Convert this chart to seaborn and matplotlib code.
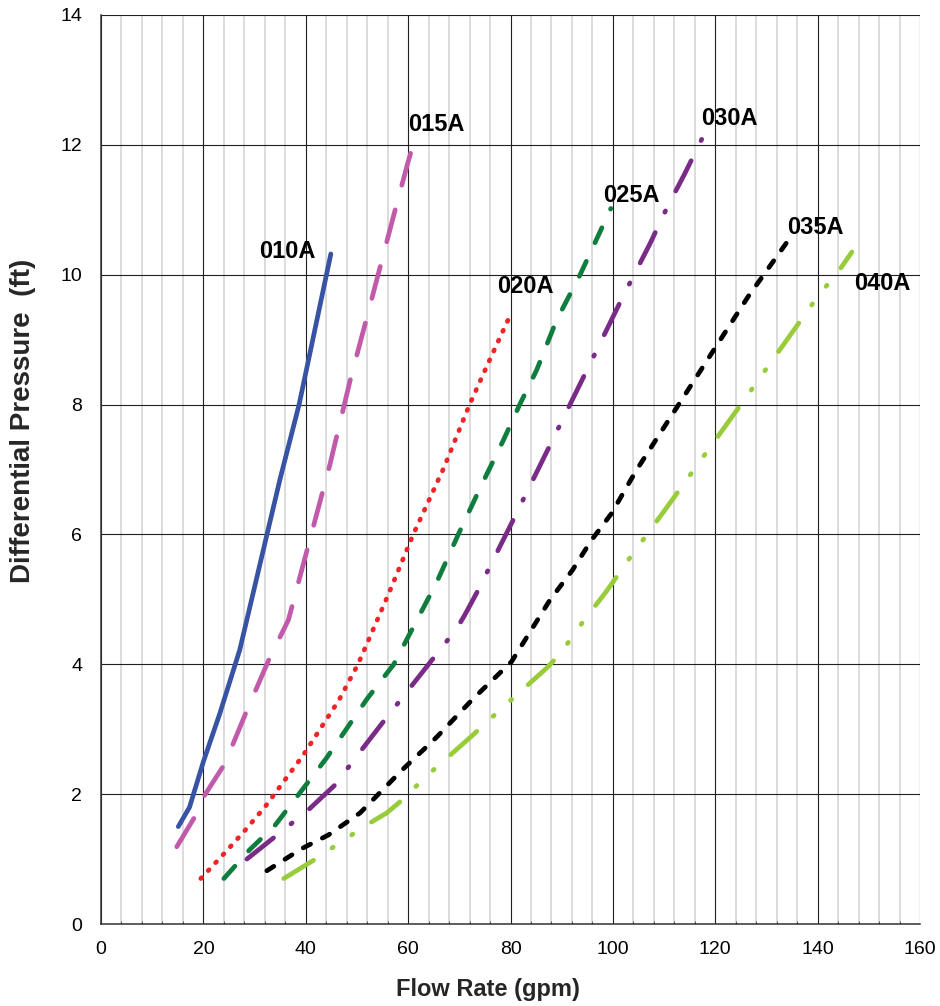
import matplotlib
matplotlib.use("Agg")
import matplotlib.pyplot as plt
from matplotlib.ticker import MultipleLocator
import seaborn as sns

sns.set_theme(style="white")
plt.rcParams["font.family"] = ["Liberation Sans", "DejaVu Sans"]

# ── Data ───────────────────────────────────────────────────────────────────────

models = ["010A", "015A", "020A", "025A", "030A", "035A", "040A"]

flow_010A = [15.1, 17.3, 20.0, 23.2, 27.1, 35.0, 38.7, 44.9]
dp_010A   = [1.50, 1.80, 2.50, 3.24, 4.22, 6.86, 8.00, 10.32]

flow_015A = [14.8, 18.7, 20.3, 24.2, 28.4, 32.9, 36.6, 40.5, 44.7, 48.6, 52.5, 57.1, 60.0, 61.7]
dp_015A   = [1.19, 1.70, 1.99, 2.47, 3.27, 4.09, 4.68, 5.83, 7.07, 8.35, 9.51, 10.89, 11.74, 12.20]

flow_020A = [19.5, 24.0, 28.0, 32.0, 39.5, 46.5, 50.2, 56.0, 61.0, 67.0, 72.0, 76.0, 79.5]
dp_020A   = [0.70, 1.08, 1.43, 1.80, 2.60, 3.45, 4.00, 5.05, 6.00, 7.03, 8.00, 8.70, 9.30]

flow_025A = [24.0, 29.0, 34.0, 44.0, 52.0, 57.2, 65.5, 69.8, 74.7, 78.6, 81.8, 85.1, 89.0, 93.6, 99.6]
dp_025A   = [0.70, 1.14, 1.52, 2.55, 3.47, 4.00, 5.25, 6.00, 6.82, 7.45, 8.00, 8.53, 9.30, 10.00, 11.02]

flow_030A = [28.5, 34.4, 40.4, 45.7, 50.6, 55.0, 60.0, 64.6, 69.5, 71.0, 73.4, 80.0,
             88.5, 95.3, 102.0, 107.2, 110.5, 114.0, 118.2]
dp_030A   = [1.00, 1.37, 1.75, 2.14, 2.65, 3.10, 3.60, 4.06, 4.55, 4.75, 5.10, 6.14,
             7.50, 8.59, 9.67, 10.47, 11.02, 11.55, 12.22]

flow_035A = [32.4, 39.2, 44.4, 50.6, 58.8, 65.6, 72.7, 80.2, 87.7, 92.1, 95.8, 99.7, 104.6, 126.4, 134.0]
dp_035A   = [0.82, 1.16, 1.37, 1.71, 2.37, 2.88, 3.47, 4.04, 4.99, 5.45, 5.91, 6.32, 6.99, 9.66, 10.50]

flow_040A = [35.7, 41.9, 47.0, 52.2, 55.8, 58.1, 61.0, 63.9, 67.2, 72.5, 78.4, 86.9,
             89.6, 94.2, 98.8, 103.5, 110.2, 125.0, 139.8, 144.5, 146.7]
dp_040A   = [0.70, 1.00, 1.27, 1.54, 1.71, 1.86, 2.08, 2.30, 2.53, 2.90, 3.33, 3.93,
             4.15, 4.66, 5.13, 5.66, 6.38, 8.00, 9.64, 10.10, 10.35]

flows = [flow_010A, flow_015A, flow_020A, flow_025A, flow_030A, flow_035A, flow_040A]
dps   = [dp_010A, dp_015A, dp_020A, dp_025A, dp_030A, dp_035A, dp_040A]

# ── Styles ─────────────────────────────────────────────────────────────────────

colors = {
    "010A": "#3953a4",
    "015A": "#c25aab",
    "020A": "#f02325",
    "025A": "#0e7d3e",
    "030A": "#7a2b87",
    "035A": "#000000",
    "040A": "#99cc3a",
}
# dash patterns in units of line width (round caps add half a width each end)
linestyles = {
    "010A": "-",
    "015A": (0, (7, 5.4)),
    "020A": (0, (0.25, 2.05)),
    "025A": (0, (3.5, 4.35)),
    "030A": (0, (7.2, 4.75, 0.3, 4.75)),
    "035A": (0, (1.75, 2.8)),
    "040A": (0, (7.4, 4.7, 0.3, 4.7, 0.3, 4.7)),
}
# label anchor (left edge, vertical centre) in data units
label_pos = {
    "010A": (30.9, 10.35),
    "015A": (60.0, 12.32),
    "020A": (77.3, 9.82),
    "025A": (98.1, 11.22),
    "030A": (117.3, 12.40),
    "035A": (134.1, 10.73),
    "040A": (147.1, 9.86),
}

# ── Plot ───────────────────────────────────────────────────────────────────────

fig = plt.figure(figsize=(9.4, 10.06), dpi=100)
ax = fig.add_axes([0.10745, 0.08151, 0.87128, 0.90358])

for name, x, y in zip(models, flows, dps):
    sns.lineplot(x=x, y=y, ax=ax, sort=False, estimator=None,
                 color=colors[name], linewidth=3.4, linestyle=linestyles[name],
                 dash_capstyle="round", solid_capstyle="round", zorder=3)
    lx, ly = label_pos[name]
    ax.text(lx, ly, name, fontsize=17, fontweight="bold", color="black",
            ha="left", va="center", zorder=4, clip_on=False)

ax.set_xlim(0, 160)
ax.set_ylim(0, 14)
ax.xaxis.set_major_locator(MultipleLocator(20))
ax.xaxis.set_minor_locator(MultipleLocator(4))
ax.yaxis.set_major_locator(MultipleLocator(2))

ax.grid(which="minor", axis="x", color="#d2d2d2", linewidth=1.1, zorder=0)
ax.grid(which="major", axis="both", color="#202020", linewidth=0.8, zorder=1)
ax.set_axisbelow(True)

for side in ["top", "right"]:
    ax.spines[side].set_visible(False)
for side in ["left", "bottom"]:
    ax.spines[side].set_color("#333333")
    ax.spines[side].set_linewidth(1.1)

ax.tick_params(axis="both", which="major", direction="out", length=4.5, width=0.9,
               color="#333333", labelsize=14, labelcolor="black")
ax.tick_params(axis="x", which="major", pad=8)
ax.tick_params(axis="y", which="major", pad=9)
ax.tick_params(axis="x", which="minor", direction="in", length=2.5, width=0.7,
               color="#555555", bottom=True)

ax.set_xlabel("Flow Rate (gpm)", fontsize=17, fontweight="bold")
ax.set_ylabel("Differential Pressure  (ft)", fontsize=20, fontweight="bold")
ax.xaxis.set_label_coords(0.4725, -0.0726)
ax.xaxis.label.set_va("center")
ax.yaxis.set_label_coords(-0.0958, 0.553)
ax.yaxis.label.set_va("center")

fig.savefig("out.png", dpi=100)
plt.close(fig)
